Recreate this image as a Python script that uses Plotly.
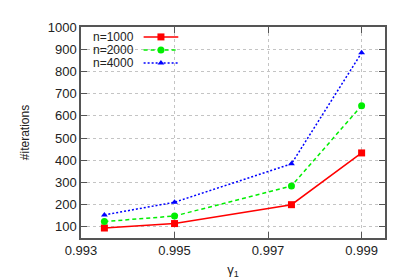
import plotly.graph_objects as go

gamma = [0.9935, 0.995, 0.9975, 0.999]
iters_1000 = [95, 115, 200, 433]
iters_2000 = [124, 149, 284, 646]
iters_4000 = [154, 211, 384, 884]
series_names = ["n=1000", "n=2000", "n=4000"]
x_ticks = [0.993, 0.995, 0.997, 0.999]
y_ticks = [100, 200, 300, 400, 500, 600, 700, 800, 900, 1000]

styles = [
    dict(color="#ff0000", dash="solid", symbol="square", size=7),
    dict(color="#00ee00", dash="4px,3px", symbol="circle", size=7),
    dict(color="#0000ff", dash="2px,2px", symbol="triangle-up", size=6),
]

fig = go.Figure()
for name, ys, st in zip(series_names, [iters_1000, iters_2000, iters_4000], styles):
    fig.add_trace(go.Scatter(
        x=gamma, y=ys, mode="lines+markers", name=name, showlegend=False,
        line=dict(color=st["color"], dash=st["dash"], width=1.5),
        marker=dict(symbol=st["symbol"], size=st["size"], color=st["color"]),
    ))

# manual gnuplot-style legend (text left, sample right) on an overlay axis
leg_rows = [0.953, 0.891, 0.829]
fig.add_shape(type="rect", xref="paper", yref="paper", x0=0.03, x1=0.355, y0=0.795, y1=0.995,
              fillcolor="white", line=dict(width=0), layer="between")
for name, st, ry in zip(series_names, styles, leg_rows):
    fig.add_trace(go.Scatter(
        x=[0.206, 0.263, 0.32], y=[ry, ry, ry], xaxis="x2", yaxis="y2",
        mode="lines", showlegend=False, hoverinfo="skip",
        line=dict(color=st["color"], dash=st["dash"], width=1.5),
    ))
    fig.add_trace(go.Scatter(
        x=[0.263], y=[ry], xaxis="x2", yaxis="y2",
        mode="markers", showlegend=False, hoverinfo="skip",
        marker=dict(symbol=st["symbol"], size=st["size"], color=st["color"]),
    ))
    fig.add_annotation(x=0.18, y=ry, xref="paper", yref="paper", text=name,
                       showarrow=False, xanchor="right", yanchor="middle",
                       font=dict(family="Liberation Sans", size=12, color="#222"))

axis_common = dict(
    showline=True, linecolor="#555", linewidth=1.5, mirror="allticks",
    ticks="inside", ticklen=6, tickwidth=1, tickcolor="#555",
    showgrid=True, gridcolor="#c4c4c4", griddash="dot", gridwidth=1,
    zeroline=False, tickfont=dict(family="Liberation Sans", size=13, color="#222"),
)

fig.update_layout(
    width=399, height=279,
    margin=dict(l=73, r=22, t=15, b=40),
    paper_bgcolor="white", plot_bgcolor="white",
    font=dict(family="Liberation Sans", size=13, color="#222"),
    xaxis=dict(range=[0.993, 0.9995], tickvals=x_ticks,
               ticktext=[f"{v:.3f}" for v in x_ticks],
               title=dict(text="γ<sub>1</sub>", standoff=8, font=dict(size=13)),
               **axis_common),
    yaxis=dict(range=[50, 1000], tickvals=y_ticks,
               title=dict(text="#iterations", standoff=16, font=dict(size=12)),
               **axis_common),
    xaxis2=dict(range=[0, 1], overlaying="x", visible=False, fixedrange=True),
    yaxis2=dict(range=[0, 1], overlaying="y", visible=False, fixedrange=True),
)

fig.write_html("out.html")
